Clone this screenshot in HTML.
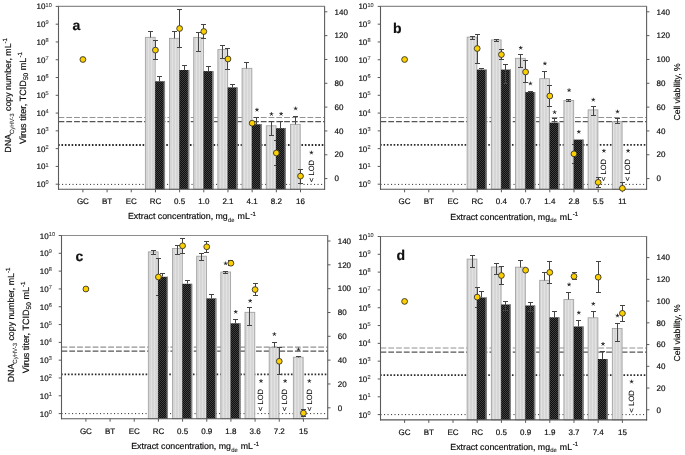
<!DOCTYPE html>
<html><head><meta charset="utf-8"><style>
html,body{margin:0;padding:0;background:#fff;}
svg{display:block;}
text{font-family:"Liberation Sans", sans-serif;text-rendering:geometricPrecision;stroke:#111;stroke-width:0.18px;}
#wrap{will-change:transform;width:685px;height:455px;}
</style></head><body><div id="wrap">
<svg width="685" height="455" viewBox="0 0 685 455"><defs>
<pattern id="lightpat" width="3" height="4" patternUnits="userSpaceOnUse">
<rect width="3" height="4" fill="#d6d6d6"/><rect x="1" width="1" height="4" fill="#e2e2e2"/>
</pattern>
<pattern id="darkpat" width="2" height="2" patternUnits="userSpaceOnUse">
<rect width="2" height="2" fill="#101010"/><rect width="1" height="1" fill="#3e3e3e"/><rect x="1" y="1" width="1" height="1" fill="#3e3e3e"/>
</pattern>
</defs><rect width="685" height="455" fill="#ffffff"/><line x1="58.50" y1="117.50" x2="324.60" y2="117.50" stroke="#929292" stroke-width="1.05" stroke-dasharray="5.8 1.98"/><line x1="58.50" y1="121.60" x2="324.60" y2="121.60" stroke="#555555" stroke-width="1.25" stroke-dasharray="5.8 1.98"/><line x1="58.50" y1="145.00" x2="324.60" y2="145.00" stroke="#2a2a2a" stroke-width="1.8" stroke-dasharray="1.6 1.78" stroke-dashoffset="0.4"/><line x1="58.50" y1="184.40" x2="324.60" y2="184.40" stroke="#333333" stroke-width="1.0" stroke-dasharray="1.1 2.4"/><rect x="145.34" y="37.30" width="9.8" height="152.00" fill="url(#lightpat)" stroke="#9c9c9c" stroke-width="0.8"/><line x1="150.50" y1="31.50" x2="150.50" y2="37.50" stroke="#444444" stroke-width="1.0" /><line x1="148.00" y1="31.50" x2="153.00" y2="31.50" stroke="#444444" stroke-width="1.0" /><rect x="169.52" y="38.30" width="9.8" height="151.00" fill="url(#lightpat)" stroke="#9c9c9c" stroke-width="0.8"/><line x1="174.50" y1="31.50" x2="174.50" y2="38.50" stroke="#444444" stroke-width="1.0" /><line x1="172.00" y1="31.50" x2="177.00" y2="31.50" stroke="#444444" stroke-width="1.0" /><rect x="193.70" y="37.40" width="9.8" height="151.90" fill="url(#lightpat)" stroke="#9c9c9c" stroke-width="0.8"/><line x1="198.50" y1="32.50" x2="198.50" y2="51.50" stroke="#444444" stroke-width="1.0" /><line x1="196.00" y1="32.50" x2="201.00" y2="32.50" stroke="#444444" stroke-width="1.0" /><line x1="196.00" y1="51.50" x2="201.00" y2="51.50" stroke="#444444" stroke-width="1.0" /><rect x="217.88" y="49.60" width="9.8" height="139.70" fill="url(#lightpat)" stroke="#9c9c9c" stroke-width="0.8"/><line x1="222.50" y1="45.50" x2="222.50" y2="58.50" stroke="#444444" stroke-width="1.0" /><line x1="220.00" y1="45.50" x2="225.00" y2="45.50" stroke="#444444" stroke-width="1.0" /><line x1="220.00" y1="58.50" x2="225.00" y2="58.50" stroke="#444444" stroke-width="1.0" /><rect x="242.06" y="68.30" width="9.8" height="121.00" fill="url(#lightpat)" stroke="#9c9c9c" stroke-width="0.8"/><line x1="246.50" y1="62.50" x2="246.50" y2="68.50" stroke="#444444" stroke-width="1.0" /><line x1="244.00" y1="62.50" x2="249.00" y2="62.50" stroke="#444444" stroke-width="1.0" /><rect x="266.24" y="125.80" width="9.8" height="63.50" fill="url(#lightpat)" stroke="#9c9c9c" stroke-width="0.8"/><line x1="271.50" y1="121.50" x2="271.50" y2="135.50" stroke="#444444" stroke-width="1.0" /><line x1="269.00" y1="121.50" x2="274.00" y2="121.50" stroke="#444444" stroke-width="1.0" /><line x1="269.00" y1="135.50" x2="274.00" y2="135.50" stroke="#444444" stroke-width="1.0" /><rect x="290.42" y="124.30" width="9.8" height="65.00" fill="url(#lightpat)" stroke="#9c9c9c" stroke-width="0.8"/><line x1="295.50" y1="116.50" x2="295.50" y2="124.50" stroke="#444444" stroke-width="1.0" /><line x1="293.00" y1="116.50" x2="298.00" y2="116.50" stroke="#444444" stroke-width="1.0" /><line x1="155.50" y1="40.50" x2="155.50" y2="59.50" stroke="#444444" stroke-width="1.0" /><line x1="153.00" y1="40.50" x2="158.00" y2="40.50" stroke="#444444" stroke-width="1.0" /><line x1="153.00" y1="59.50" x2="158.00" y2="59.50" stroke="#444444" stroke-width="1.0" /><line x1="179.50" y1="9.50" x2="179.50" y2="47.50" stroke="#444444" stroke-width="1.0" /><line x1="177.00" y1="9.50" x2="182.00" y2="9.50" stroke="#444444" stroke-width="1.0" /><line x1="177.00" y1="47.50" x2="182.00" y2="47.50" stroke="#444444" stroke-width="1.0" /><line x1="203.50" y1="24.50" x2="203.50" y2="38.50" stroke="#444444" stroke-width="1.0" /><line x1="201.00" y1="24.50" x2="206.00" y2="24.50" stroke="#444444" stroke-width="1.0" /><line x1="201.00" y1="38.50" x2="206.00" y2="38.50" stroke="#444444" stroke-width="1.0" /><line x1="227.50" y1="48.50" x2="227.50" y2="69.50" stroke="#444444" stroke-width="1.0" /><line x1="225.00" y1="48.50" x2="230.00" y2="48.50" stroke="#444444" stroke-width="1.0" /><line x1="225.00" y1="69.50" x2="230.00" y2="69.50" stroke="#444444" stroke-width="1.0" /><line x1="276.50" y1="140.50" x2="276.50" y2="165.50" stroke="#444444" stroke-width="1.0" /><line x1="274.00" y1="140.50" x2="279.00" y2="140.50" stroke="#444444" stroke-width="1.0" /><line x1="274.00" y1="165.50" x2="279.00" y2="165.50" stroke="#444444" stroke-width="1.0" /><line x1="300.50" y1="169.50" x2="300.50" y2="183.50" stroke="#444444" stroke-width="1.0" /><line x1="298.00" y1="169.50" x2="303.00" y2="169.50" stroke="#444444" stroke-width="1.0" /><line x1="298.00" y1="183.50" x2="303.00" y2="183.50" stroke="#444444" stroke-width="1.0" /><rect x="155.14" y="81.30" width="9.9" height="108.00" fill="url(#darkpat)"/><rect x="163.64" y="81.30" width="1.4" height="108.00" fill="#9a9a9a" opacity="0.8"/><line x1="159.50" y1="76.50" x2="159.50" y2="81.50" stroke="#444444" stroke-width="1.0" /><line x1="157.00" y1="76.50" x2="162.00" y2="76.50" stroke="#444444" stroke-width="1.0" /><rect x="179.32" y="70.00" width="9.9" height="119.30" fill="url(#darkpat)"/><rect x="187.82" y="70.00" width="1.4" height="119.30" fill="#9a9a9a" opacity="0.8"/><line x1="184.50" y1="65.50" x2="184.50" y2="70.50" stroke="#444444" stroke-width="1.0" /><line x1="182.00" y1="65.50" x2="187.00" y2="65.50" stroke="#444444" stroke-width="1.0" /><rect x="203.50" y="71.10" width="9.9" height="118.20" fill="url(#darkpat)"/><rect x="212.00" y="71.10" width="1.4" height="118.20" fill="#9a9a9a" opacity="0.8"/><line x1="208.50" y1="66.50" x2="208.50" y2="71.50" stroke="#444444" stroke-width="1.0" /><line x1="206.00" y1="66.50" x2="211.00" y2="66.50" stroke="#444444" stroke-width="1.0" /><rect x="227.68" y="87.40" width="9.9" height="101.90" fill="url(#darkpat)"/><rect x="236.18" y="87.40" width="1.4" height="101.90" fill="#9a9a9a" opacity="0.8"/><line x1="232.50" y1="84.50" x2="232.50" y2="87.50" stroke="#444444" stroke-width="1.0" /><line x1="230.00" y1="84.50" x2="235.00" y2="84.50" stroke="#444444" stroke-width="1.0" /><rect x="251.86" y="124.30" width="9.9" height="65.00" fill="url(#darkpat)"/><rect x="260.36" y="124.30" width="1.4" height="65.00" fill="#9a9a9a" opacity="0.8"/><line x1="256.50" y1="117.50" x2="256.50" y2="124.50" stroke="#444444" stroke-width="1.0" /><line x1="254.00" y1="117.50" x2="259.00" y2="117.50" stroke="#444444" stroke-width="1.0" /><rect x="276.04" y="128.20" width="9.9" height="61.10" fill="url(#darkpat)"/><rect x="284.54" y="128.20" width="1.4" height="61.10" fill="#9a9a9a" opacity="0.8"/><line x1="280.50" y1="121.50" x2="280.50" y2="128.50" stroke="#444444" stroke-width="1.0" /><line x1="278.00" y1="121.50" x2="283.00" y2="121.50" stroke="#444444" stroke-width="1.0" /><path d="M256.96,109.80L256.96,108.25M256.96,109.80L258.43,109.32M256.96,109.80L257.87,111.05M256.96,109.80L256.05,111.05M256.96,109.80L255.49,109.32" stroke="#222" stroke-width="0.85" fill="none" stroke-linecap="round"/><path d="M271.44,114.10L271.44,112.55M271.44,114.10L272.91,113.62M271.44,114.10L272.35,115.35M271.44,114.10L270.53,115.35M271.44,114.10L269.97,113.62" stroke="#222" stroke-width="0.85" fill="none" stroke-linecap="round"/><path d="M281.14,113.90L281.14,112.35M281.14,113.90L282.61,113.42M281.14,113.90L282.05,115.15M281.14,113.90L280.23,115.15M281.14,113.90L279.67,113.42" stroke="#222" stroke-width="0.85" fill="none" stroke-linecap="round"/><path d="M295.62,108.60L295.62,107.05M295.62,108.60L297.09,108.12M295.62,108.60L296.53,109.85M295.62,108.60L294.71,109.85M295.62,108.60L294.15,108.12" stroke="#222" stroke-width="0.85" fill="none" stroke-linecap="round"/><path d="M311.42,152.70L311.42,151.15M311.42,152.70L312.89,152.22M311.42,152.70L312.33,153.95M311.42,152.70L310.51,153.95M311.42,152.70L309.95,152.22" stroke="#222" stroke-width="0.85" fill="none" stroke-linecap="round"/><text x="0" y="0" font-size="7.6" text-anchor="middle" fill="#111" style="stroke-width:0.08px" transform="translate(313.72,171.00) rotate(-90)">&lt; LOD</text><line x1="58.00" y1="6.40" x2="325.10" y2="6.40" stroke="#8c8c8c" stroke-width="1.1" /><line x1="58.50" y1="6.40" x2="58.50" y2="189.80" stroke="#5a5a5a" stroke-width="1.1" /><line x1="324.60" y1="6.40" x2="324.60" y2="189.80" stroke="#5e5e5e" stroke-width="1.1" /><line x1="58.00" y1="189.30" x2="325.10" y2="189.30" stroke="#555555" stroke-width="1.1" /><line x1="55.70" y1="184.20" x2="58.50" y2="184.20" stroke="#5a5a5a" stroke-width="1" /><text x="36.60" y="187.20" font-size="8" text-anchor="start" font-weight="normal" fill="#0a0a0a" >10</text><text x="45.60" y="184.30" font-size="5.6" text-anchor="start" font-weight="normal" fill="#555" style="stroke-width:0.1px">0</text><line x1="55.70" y1="166.42" x2="58.50" y2="166.42" stroke="#5a5a5a" stroke-width="1" /><text x="36.60" y="169.42" font-size="8" text-anchor="start" font-weight="normal" fill="#0a0a0a" >10</text><text x="45.60" y="166.52" font-size="5.6" text-anchor="start" font-weight="normal" fill="#555" style="stroke-width:0.1px">1</text><line x1="55.70" y1="148.64" x2="58.50" y2="148.64" stroke="#5a5a5a" stroke-width="1" /><text x="36.60" y="151.64" font-size="8" text-anchor="start" font-weight="normal" fill="#0a0a0a" >10</text><text x="45.60" y="148.74" font-size="5.6" text-anchor="start" font-weight="normal" fill="#555" style="stroke-width:0.1px">2</text><line x1="55.70" y1="130.86" x2="58.50" y2="130.86" stroke="#5a5a5a" stroke-width="1" /><text x="36.60" y="133.86" font-size="8" text-anchor="start" font-weight="normal" fill="#0a0a0a" >10</text><text x="45.60" y="130.96" font-size="5.6" text-anchor="start" font-weight="normal" fill="#555" style="stroke-width:0.1px">3</text><line x1="55.70" y1="113.08" x2="58.50" y2="113.08" stroke="#5a5a5a" stroke-width="1" /><text x="36.60" y="116.08" font-size="8" text-anchor="start" font-weight="normal" fill="#0a0a0a" >10</text><text x="45.60" y="113.18" font-size="5.6" text-anchor="start" font-weight="normal" fill="#555" style="stroke-width:0.1px">4</text><line x1="55.70" y1="95.30" x2="58.50" y2="95.30" stroke="#5a5a5a" stroke-width="1" /><text x="36.60" y="98.30" font-size="8" text-anchor="start" font-weight="normal" fill="#0a0a0a" >10</text><text x="45.60" y="95.40" font-size="5.6" text-anchor="start" font-weight="normal" fill="#555" style="stroke-width:0.1px">5</text><line x1="55.70" y1="77.52" x2="58.50" y2="77.52" stroke="#5a5a5a" stroke-width="1" /><text x="36.60" y="80.52" font-size="8" text-anchor="start" font-weight="normal" fill="#0a0a0a" >10</text><text x="45.60" y="77.62" font-size="5.6" text-anchor="start" font-weight="normal" fill="#555" style="stroke-width:0.1px">6</text><line x1="55.70" y1="59.74" x2="58.50" y2="59.74" stroke="#5a5a5a" stroke-width="1" /><text x="36.60" y="62.74" font-size="8" text-anchor="start" font-weight="normal" fill="#0a0a0a" >10</text><text x="45.60" y="59.84" font-size="5.6" text-anchor="start" font-weight="normal" fill="#555" style="stroke-width:0.1px">7</text><line x1="55.70" y1="41.96" x2="58.50" y2="41.96" stroke="#5a5a5a" stroke-width="1" /><text x="36.60" y="44.96" font-size="8" text-anchor="start" font-weight="normal" fill="#0a0a0a" >10</text><text x="45.60" y="42.06" font-size="5.6" text-anchor="start" font-weight="normal" fill="#555" style="stroke-width:0.1px">8</text><line x1="55.70" y1="24.18" x2="58.50" y2="24.18" stroke="#5a5a5a" stroke-width="1" /><text x="36.60" y="27.18" font-size="8" text-anchor="start" font-weight="normal" fill="#0a0a0a" >10</text><text x="45.60" y="24.28" font-size="5.6" text-anchor="start" font-weight="normal" fill="#555" style="stroke-width:0.1px">9</text><line x1="55.70" y1="6.40" x2="58.50" y2="6.40" stroke="#5a5a5a" stroke-width="1" /><text x="36.60" y="9.40" font-size="8" text-anchor="start" font-weight="normal" fill="#0a0a0a" >10</text><text x="45.60" y="6.50" font-size="5.6" text-anchor="start" font-weight="normal" fill="#555" style="stroke-width:0.1px">10</text><line x1="324.60" y1="178.60" x2="327.40" y2="178.60" stroke="#5a5a5a" stroke-width="1" /><text x="334.60" y="181.30" font-size="8" text-anchor="start" font-weight="normal" fill="#0a0a0a" >0</text><line x1="324.60" y1="154.77" x2="327.40" y2="154.77" stroke="#5a5a5a" stroke-width="1" /><text x="334.60" y="157.47" font-size="8" text-anchor="start" font-weight="normal" fill="#0a0a0a" >20</text><line x1="324.60" y1="130.94" x2="327.40" y2="130.94" stroke="#5a5a5a" stroke-width="1" /><text x="334.60" y="133.64" font-size="8" text-anchor="start" font-weight="normal" fill="#0a0a0a" >40</text><line x1="324.60" y1="107.11" x2="327.40" y2="107.11" stroke="#5a5a5a" stroke-width="1" /><text x="334.60" y="109.81" font-size="8" text-anchor="start" font-weight="normal" fill="#0a0a0a" >60</text><line x1="324.60" y1="83.29" x2="327.40" y2="83.29" stroke="#5a5a5a" stroke-width="1" /><text x="334.60" y="85.99" font-size="8" text-anchor="start" font-weight="normal" fill="#0a0a0a" >80</text><line x1="324.60" y1="59.46" x2="327.40" y2="59.46" stroke="#5a5a5a" stroke-width="1" /><text x="334.60" y="62.16" font-size="8" text-anchor="start" font-weight="normal" fill="#0a0a0a" >100</text><line x1="324.60" y1="35.63" x2="327.40" y2="35.63" stroke="#5a5a5a" stroke-width="1" /><text x="334.60" y="38.33" font-size="8" text-anchor="start" font-weight="normal" fill="#0a0a0a" >120</text><line x1="324.60" y1="11.80" x2="327.40" y2="11.80" stroke="#5a5a5a" stroke-width="1" /><text x="334.60" y="14.50" font-size="8" text-anchor="start" font-weight="normal" fill="#0a0a0a" >140</text><line x1="82.90" y1="189.30" x2="82.90" y2="192.30" stroke="#5a5a5a" stroke-width="1" /><text x="82.90" y="204.20" font-size="8" text-anchor="middle" font-weight="normal" fill="#0a0a0a" >GC</text><line x1="107.08" y1="189.30" x2="107.08" y2="192.30" stroke="#5a5a5a" stroke-width="1" /><text x="107.08" y="204.20" font-size="8" text-anchor="middle" font-weight="normal" fill="#0a0a0a" >BT</text><line x1="131.26" y1="189.30" x2="131.26" y2="192.30" stroke="#5a5a5a" stroke-width="1" /><text x="131.26" y="204.20" font-size="8" text-anchor="middle" font-weight="normal" fill="#0a0a0a" >EC</text><line x1="155.44" y1="189.30" x2="155.44" y2="192.30" stroke="#5a5a5a" stroke-width="1" /><text x="155.44" y="204.20" font-size="8" text-anchor="middle" font-weight="normal" fill="#0a0a0a" >RC</text><line x1="179.62" y1="189.30" x2="179.62" y2="192.30" stroke="#5a5a5a" stroke-width="1" /><text x="179.62" y="204.20" font-size="8" text-anchor="middle" font-weight="normal" fill="#0a0a0a" >0.5</text><line x1="203.80" y1="189.30" x2="203.80" y2="192.30" stroke="#5a5a5a" stroke-width="1" /><text x="203.80" y="204.20" font-size="8" text-anchor="middle" font-weight="normal" fill="#0a0a0a" >1.0</text><line x1="227.98" y1="189.30" x2="227.98" y2="192.30" stroke="#5a5a5a" stroke-width="1" /><text x="227.98" y="204.20" font-size="8" text-anchor="middle" font-weight="normal" fill="#0a0a0a" >2.1</text><line x1="252.16" y1="189.30" x2="252.16" y2="192.30" stroke="#5a5a5a" stroke-width="1" /><text x="252.16" y="204.20" font-size="8" text-anchor="middle" font-weight="normal" fill="#0a0a0a" >4.1</text><line x1="276.34" y1="189.30" x2="276.34" y2="192.30" stroke="#5a5a5a" stroke-width="1" /><text x="276.34" y="204.20" font-size="8" text-anchor="middle" font-weight="normal" fill="#0a0a0a" >8.2</text><line x1="300.52" y1="189.30" x2="300.52" y2="192.30" stroke="#5a5a5a" stroke-width="1" /><text x="300.52" y="204.20" font-size="8" text-anchor="middle" font-weight="normal" fill="#0a0a0a" >16</text><text x="72.50" y="30.30" font-size="14" text-anchor="start" font-weight="bold" fill="#111" >a</text><text x="128.00" y="219.30" font-size="8.8" fill="#0a0a0a">Extract concentration, mg<tspan font-size="5.9" dy="2.9" dx="0.3" fill="#333" style="stroke-width:0.1px">de</tspan><tspan dy="-2.9" dx="0.5"> mL</tspan><tspan font-size="5.9" dy="-3.7" dx="0.7">-1</tspan></text><circle cx="82.90" cy="59.50" r="2.9" fill="#fccf00" stroke="#2a2a2a" stroke-width="0.85"/><circle cx="155.44" cy="50.10" r="2.9" fill="#fccf00" stroke="#2a2a2a" stroke-width="0.85"/><circle cx="179.62" cy="28.50" r="2.9" fill="#fccf00" stroke="#2a2a2a" stroke-width="0.85"/><circle cx="203.80" cy="31.50" r="2.9" fill="#fccf00" stroke="#2a2a2a" stroke-width="0.85"/><circle cx="227.98" cy="59.00" r="2.9" fill="#fccf00" stroke="#2a2a2a" stroke-width="0.85"/><circle cx="252.16" cy="123.20" r="2.9" fill="#fccf00" stroke="#2a2a2a" stroke-width="0.85"/><circle cx="276.34" cy="153.00" r="2.9" fill="#fccf00" stroke="#2a2a2a" stroke-width="0.85"/><circle cx="300.52" cy="176.10" r="2.9" fill="#fccf00" stroke="#2a2a2a" stroke-width="0.85"/><line x1="380.50" y1="117.50" x2="646.60" y2="117.50" stroke="#929292" stroke-width="1.05" stroke-dasharray="5.8 1.98"/><line x1="380.50" y1="121.60" x2="646.60" y2="121.60" stroke="#555555" stroke-width="1.25" stroke-dasharray="5.8 1.98"/><line x1="380.50" y1="144.80" x2="646.60" y2="144.80" stroke="#2a2a2a" stroke-width="1.8" stroke-dasharray="1.6 1.78" stroke-dashoffset="0.4"/><line x1="380.50" y1="184.40" x2="646.60" y2="184.40" stroke="#333333" stroke-width="1.0" stroke-dasharray="1.1 2.4"/><rect x="467.10" y="37.10" width="9.8" height="152.20" fill="url(#lightpat)" stroke="#9c9c9c" stroke-width="0.8"/><line x1="472.50" y1="36.50" x2="472.50" y2="39.50" stroke="#444444" stroke-width="1.0" /><line x1="470.00" y1="36.50" x2="475.00" y2="36.50" stroke="#444444" stroke-width="1.0" /><line x1="470.00" y1="39.50" x2="475.00" y2="39.50" stroke="#444444" stroke-width="1.0" /><rect x="491.30" y="39.90" width="9.8" height="149.40" fill="url(#lightpat)" stroke="#9c9c9c" stroke-width="0.8"/><line x1="496.50" y1="39.50" x2="496.50" y2="41.50" stroke="#444444" stroke-width="1.0" /><line x1="494.00" y1="39.50" x2="499.00" y2="39.50" stroke="#444444" stroke-width="1.0" /><line x1="494.00" y1="41.50" x2="499.00" y2="41.50" stroke="#444444" stroke-width="1.0" /><rect x="515.50" y="58.30" width="9.8" height="131.00" fill="url(#lightpat)" stroke="#9c9c9c" stroke-width="0.8"/><line x1="520.50" y1="54.50" x2="520.50" y2="67.50" stroke="#444444" stroke-width="1.0" /><line x1="518.00" y1="54.50" x2="523.00" y2="54.50" stroke="#444444" stroke-width="1.0" /><line x1="518.00" y1="67.50" x2="523.00" y2="67.50" stroke="#444444" stroke-width="1.0" /><rect x="539.70" y="78.70" width="9.8" height="110.60" fill="url(#lightpat)" stroke="#9c9c9c" stroke-width="0.8"/><line x1="544.50" y1="71.50" x2="544.50" y2="78.50" stroke="#444444" stroke-width="1.0" /><line x1="542.00" y1="71.50" x2="547.00" y2="71.50" stroke="#444444" stroke-width="1.0" /><rect x="563.90" y="100.40" width="9.8" height="88.90" fill="url(#lightpat)" stroke="#9c9c9c" stroke-width="0.8"/><line x1="568.50" y1="99.50" x2="568.50" y2="101.50" stroke="#444444" stroke-width="1.0" /><line x1="566.00" y1="99.50" x2="571.00" y2="99.50" stroke="#444444" stroke-width="1.0" /><line x1="566.00" y1="101.50" x2="571.00" y2="101.50" stroke="#444444" stroke-width="1.0" /><rect x="588.10" y="109.90" width="9.8" height="79.40" fill="url(#lightpat)" stroke="#9c9c9c" stroke-width="0.8"/><line x1="593.50" y1="106.50" x2="593.50" y2="115.50" stroke="#444444" stroke-width="1.0" /><line x1="591.00" y1="106.50" x2="596.00" y2="106.50" stroke="#444444" stroke-width="1.0" /><line x1="591.00" y1="115.50" x2="596.00" y2="115.50" stroke="#444444" stroke-width="1.0" /><rect x="612.30" y="121.80" width="9.8" height="67.50" fill="url(#lightpat)" stroke="#9c9c9c" stroke-width="0.8"/><line x1="617.50" y1="118.50" x2="617.50" y2="123.50" stroke="#444444" stroke-width="1.0" /><line x1="615.00" y1="118.50" x2="620.00" y2="118.50" stroke="#444444" stroke-width="1.0" /><line x1="615.00" y1="123.50" x2="620.00" y2="123.50" stroke="#444444" stroke-width="1.0" /><line x1="477.50" y1="34.50" x2="477.50" y2="63.50" stroke="#444444" stroke-width="1.0" /><line x1="475.00" y1="34.50" x2="480.00" y2="34.50" stroke="#444444" stroke-width="1.0" /><line x1="475.00" y1="63.50" x2="480.00" y2="63.50" stroke="#444444" stroke-width="1.0" /><line x1="501.50" y1="49.50" x2="501.50" y2="59.50" stroke="#444444" stroke-width="1.0" /><line x1="499.00" y1="49.50" x2="504.00" y2="49.50" stroke="#444444" stroke-width="1.0" /><line x1="499.00" y1="59.50" x2="504.00" y2="59.50" stroke="#444444" stroke-width="1.0" /><line x1="525.50" y1="60.50" x2="525.50" y2="82.50" stroke="#444444" stroke-width="1.0" /><line x1="523.00" y1="60.50" x2="528.00" y2="60.50" stroke="#444444" stroke-width="1.0" /><line x1="523.00" y1="82.50" x2="528.00" y2="82.50" stroke="#444444" stroke-width="1.0" /><line x1="549.50" y1="85.50" x2="549.50" y2="106.50" stroke="#444444" stroke-width="1.0" /><line x1="547.00" y1="85.50" x2="552.00" y2="85.50" stroke="#444444" stroke-width="1.0" /><line x1="547.00" y1="106.50" x2="552.00" y2="106.50" stroke="#444444" stroke-width="1.0" /><line x1="574.50" y1="144.50" x2="574.50" y2="163.50" stroke="#444444" stroke-width="1.0" /><line x1="572.00" y1="144.50" x2="577.00" y2="144.50" stroke="#444444" stroke-width="1.0" /><line x1="572.00" y1="163.50" x2="577.00" y2="163.50" stroke="#444444" stroke-width="1.0" /><line x1="598.50" y1="177.50" x2="598.50" y2="187.50" stroke="#444444" stroke-width="1.0" /><line x1="596.00" y1="177.50" x2="601.00" y2="177.50" stroke="#444444" stroke-width="1.0" /><line x1="596.00" y1="187.50" x2="601.00" y2="187.50" stroke="#444444" stroke-width="1.0" /><line x1="622.50" y1="182.50" x2="622.50" y2="188.50" stroke="#444444" stroke-width="1.0" /><line x1="620.00" y1="182.50" x2="625.00" y2="182.50" stroke="#444444" stroke-width="1.0" /><rect x="476.90" y="69.60" width="9.9" height="119.70" fill="url(#darkpat)"/><rect x="485.40" y="69.60" width="1.4" height="119.70" fill="#9a9a9a" opacity="0.8"/><line x1="481.50" y1="68.50" x2="481.50" y2="69.50" stroke="#444444" stroke-width="1.0" /><line x1="479.00" y1="68.50" x2="484.00" y2="68.50" stroke="#444444" stroke-width="1.0" /><rect x="501.10" y="69.60" width="9.9" height="119.70" fill="url(#darkpat)"/><rect x="509.60" y="69.60" width="1.4" height="119.70" fill="#9a9a9a" opacity="0.8"/><line x1="505.50" y1="64.50" x2="505.50" y2="83.50" stroke="#444444" stroke-width="1.0" /><line x1="503.00" y1="64.50" x2="508.00" y2="64.50" stroke="#444444" stroke-width="1.0" /><line x1="503.00" y1="83.50" x2="508.00" y2="83.50" stroke="#444444" stroke-width="1.0" /><rect x="525.30" y="92.10" width="9.9" height="97.20" fill="url(#darkpat)"/><rect x="533.80" y="92.10" width="1.4" height="97.20" fill="#9a9a9a" opacity="0.8"/><line x1="530.50" y1="91.50" x2="530.50" y2="92.50" stroke="#444444" stroke-width="1.0" /><line x1="528.00" y1="91.50" x2="533.00" y2="91.50" stroke="#444444" stroke-width="1.0" /><rect x="549.50" y="122.70" width="9.9" height="66.60" fill="url(#darkpat)"/><rect x="558.00" y="122.70" width="1.4" height="66.60" fill="#9a9a9a" opacity="0.8"/><line x1="554.50" y1="118.50" x2="554.50" y2="122.50" stroke="#444444" stroke-width="1.0" /><line x1="552.00" y1="118.50" x2="557.00" y2="118.50" stroke="#444444" stroke-width="1.0" /><rect x="573.70" y="139.60" width="9.9" height="49.70" fill="url(#darkpat)"/><rect x="582.20" y="139.60" width="1.4" height="49.70" fill="#9a9a9a" opacity="0.8"/><path d="M520.70,47.90L520.70,46.35M520.70,47.90L522.17,47.42M520.70,47.90L521.61,49.15M520.70,47.90L519.79,49.15M520.70,47.90L519.23,47.42" stroke="#222" stroke-width="0.85" fill="none" stroke-linecap="round"/><path d="M530.40,83.60L530.40,82.05M530.40,83.60L531.87,83.12M530.40,83.60L531.31,84.85M530.40,83.60L529.49,84.85M530.40,83.60L528.93,83.12" stroke="#222" stroke-width="0.85" fill="none" stroke-linecap="round"/><path d="M544.90,63.60L544.90,62.05M544.90,63.60L546.37,63.12M544.90,63.60L545.81,64.85M544.90,63.60L543.99,64.85M544.90,63.60L543.43,63.12" stroke="#222" stroke-width="0.85" fill="none" stroke-linecap="round"/><path d="M554.60,112.30L554.60,110.75M554.60,112.30L556.07,111.82M554.60,112.30L555.51,113.55M554.60,112.30L553.69,113.55M554.60,112.30L553.13,111.82" stroke="#222" stroke-width="0.85" fill="none" stroke-linecap="round"/><path d="M569.10,90.30L569.10,88.75M569.10,90.30L570.57,89.82M569.10,90.30L570.01,91.55M569.10,90.30L568.19,91.55M569.10,90.30L567.63,89.82" stroke="#222" stroke-width="0.85" fill="none" stroke-linecap="round"/><path d="M578.80,131.90L578.80,130.35M578.80,131.90L580.27,131.42M578.80,131.90L579.71,133.15M578.80,131.90L577.89,133.15M578.80,131.90L577.33,131.42" stroke="#222" stroke-width="0.85" fill="none" stroke-linecap="round"/><path d="M593.30,99.80L593.30,98.25M593.30,99.80L594.77,99.32M593.30,99.80L594.21,101.05M593.30,99.80L592.39,101.05M593.30,99.80L591.83,99.32" stroke="#222" stroke-width="0.85" fill="none" stroke-linecap="round"/><path d="M603.90,150.90L603.90,149.35M603.90,150.90L605.37,150.42M603.90,150.90L604.81,152.15M603.90,150.90L602.99,152.15M603.90,150.90L602.43,150.42" stroke="#222" stroke-width="0.85" fill="none" stroke-linecap="round"/><text x="0" y="0" font-size="7.6" text-anchor="middle" fill="#111" style="stroke-width:0.08px" transform="translate(606.20,170.00) rotate(-90)">&lt; LOD</text><path d="M617.50,111.70L617.50,110.15M617.50,111.70L618.97,111.22M617.50,111.70L618.41,112.95M617.50,111.70L616.59,112.95M617.50,111.70L616.03,111.22" stroke="#222" stroke-width="0.85" fill="none" stroke-linecap="round"/><path d="M628.10,150.90L628.10,149.35M628.10,150.90L629.57,150.42M628.10,150.90L629.01,152.15M628.10,150.90L627.19,152.15M628.10,150.90L626.63,150.42" stroke="#222" stroke-width="0.85" fill="none" stroke-linecap="round"/><text x="0" y="0" font-size="7.6" text-anchor="middle" fill="#111" style="stroke-width:0.08px" transform="translate(630.40,170.00) rotate(-90)">&lt; LOD</text><line x1="380.00" y1="6.40" x2="647.10" y2="6.40" stroke="#8c8c8c" stroke-width="1.1" /><line x1="380.50" y1="6.40" x2="380.50" y2="189.80" stroke="#5a5a5a" stroke-width="1.1" /><line x1="646.60" y1="6.40" x2="646.60" y2="189.80" stroke="#5e5e5e" stroke-width="1.1" /><line x1="380.00" y1="189.30" x2="647.10" y2="189.30" stroke="#555555" stroke-width="1.1" /><line x1="377.70" y1="184.20" x2="380.50" y2="184.20" stroke="#5a5a5a" stroke-width="1" /><text x="358.40" y="187.20" font-size="8" text-anchor="start" font-weight="normal" fill="#0a0a0a" >10</text><text x="367.40" y="184.30" font-size="5.6" text-anchor="start" font-weight="normal" fill="#555" style="stroke-width:0.1px">0</text><line x1="377.70" y1="166.42" x2="380.50" y2="166.42" stroke="#5a5a5a" stroke-width="1" /><text x="358.40" y="169.42" font-size="8" text-anchor="start" font-weight="normal" fill="#0a0a0a" >10</text><text x="367.40" y="166.52" font-size="5.6" text-anchor="start" font-weight="normal" fill="#555" style="stroke-width:0.1px">1</text><line x1="377.70" y1="148.64" x2="380.50" y2="148.64" stroke="#5a5a5a" stroke-width="1" /><text x="358.40" y="151.64" font-size="8" text-anchor="start" font-weight="normal" fill="#0a0a0a" >10</text><text x="367.40" y="148.74" font-size="5.6" text-anchor="start" font-weight="normal" fill="#555" style="stroke-width:0.1px">2</text><line x1="377.70" y1="130.86" x2="380.50" y2="130.86" stroke="#5a5a5a" stroke-width="1" /><text x="358.40" y="133.86" font-size="8" text-anchor="start" font-weight="normal" fill="#0a0a0a" >10</text><text x="367.40" y="130.96" font-size="5.6" text-anchor="start" font-weight="normal" fill="#555" style="stroke-width:0.1px">3</text><line x1="377.70" y1="113.08" x2="380.50" y2="113.08" stroke="#5a5a5a" stroke-width="1" /><text x="358.40" y="116.08" font-size="8" text-anchor="start" font-weight="normal" fill="#0a0a0a" >10</text><text x="367.40" y="113.18" font-size="5.6" text-anchor="start" font-weight="normal" fill="#555" style="stroke-width:0.1px">4</text><line x1="377.70" y1="95.30" x2="380.50" y2="95.30" stroke="#5a5a5a" stroke-width="1" /><text x="358.40" y="98.30" font-size="8" text-anchor="start" font-weight="normal" fill="#0a0a0a" >10</text><text x="367.40" y="95.40" font-size="5.6" text-anchor="start" font-weight="normal" fill="#555" style="stroke-width:0.1px">5</text><line x1="377.70" y1="77.52" x2="380.50" y2="77.52" stroke="#5a5a5a" stroke-width="1" /><text x="358.40" y="80.52" font-size="8" text-anchor="start" font-weight="normal" fill="#0a0a0a" >10</text><text x="367.40" y="77.62" font-size="5.6" text-anchor="start" font-weight="normal" fill="#555" style="stroke-width:0.1px">6</text><line x1="377.70" y1="59.74" x2="380.50" y2="59.74" stroke="#5a5a5a" stroke-width="1" /><text x="358.40" y="62.74" font-size="8" text-anchor="start" font-weight="normal" fill="#0a0a0a" >10</text><text x="367.40" y="59.84" font-size="5.6" text-anchor="start" font-weight="normal" fill="#555" style="stroke-width:0.1px">7</text><line x1="377.70" y1="41.96" x2="380.50" y2="41.96" stroke="#5a5a5a" stroke-width="1" /><text x="358.40" y="44.96" font-size="8" text-anchor="start" font-weight="normal" fill="#0a0a0a" >10</text><text x="367.40" y="42.06" font-size="5.6" text-anchor="start" font-weight="normal" fill="#555" style="stroke-width:0.1px">8</text><line x1="377.70" y1="24.18" x2="380.50" y2="24.18" stroke="#5a5a5a" stroke-width="1" /><text x="358.40" y="27.18" font-size="8" text-anchor="start" font-weight="normal" fill="#0a0a0a" >10</text><text x="367.40" y="24.28" font-size="5.6" text-anchor="start" font-weight="normal" fill="#555" style="stroke-width:0.1px">9</text><line x1="377.70" y1="6.40" x2="380.50" y2="6.40" stroke="#5a5a5a" stroke-width="1" /><text x="358.40" y="9.40" font-size="8" text-anchor="start" font-weight="normal" fill="#0a0a0a" >10</text><text x="367.40" y="6.50" font-size="5.6" text-anchor="start" font-weight="normal" fill="#555" style="stroke-width:0.1px">10</text><line x1="646.60" y1="178.60" x2="649.40" y2="178.60" stroke="#5a5a5a" stroke-width="1" /><text x="656.60" y="181.30" font-size="8" text-anchor="start" font-weight="normal" fill="#0a0a0a" >0</text><line x1="646.60" y1="154.77" x2="649.40" y2="154.77" stroke="#5a5a5a" stroke-width="1" /><text x="656.60" y="157.47" font-size="8" text-anchor="start" font-weight="normal" fill="#0a0a0a" >20</text><line x1="646.60" y1="130.94" x2="649.40" y2="130.94" stroke="#5a5a5a" stroke-width="1" /><text x="656.60" y="133.64" font-size="8" text-anchor="start" font-weight="normal" fill="#0a0a0a" >40</text><line x1="646.60" y1="107.11" x2="649.40" y2="107.11" stroke="#5a5a5a" stroke-width="1" /><text x="656.60" y="109.81" font-size="8" text-anchor="start" font-weight="normal" fill="#0a0a0a" >60</text><line x1="646.60" y1="83.29" x2="649.40" y2="83.29" stroke="#5a5a5a" stroke-width="1" /><text x="656.60" y="85.99" font-size="8" text-anchor="start" font-weight="normal" fill="#0a0a0a" >80</text><line x1="646.60" y1="59.46" x2="649.40" y2="59.46" stroke="#5a5a5a" stroke-width="1" /><text x="656.60" y="62.16" font-size="8" text-anchor="start" font-weight="normal" fill="#0a0a0a" >100</text><line x1="646.60" y1="35.63" x2="649.40" y2="35.63" stroke="#5a5a5a" stroke-width="1" /><text x="656.60" y="38.33" font-size="8" text-anchor="start" font-weight="normal" fill="#0a0a0a" >120</text><line x1="646.60" y1="11.80" x2="649.40" y2="11.80" stroke="#5a5a5a" stroke-width="1" /><text x="656.60" y="14.50" font-size="8" text-anchor="start" font-weight="normal" fill="#0a0a0a" >140</text><line x1="404.60" y1="189.30" x2="404.60" y2="192.30" stroke="#5a5a5a" stroke-width="1" /><text x="404.60" y="204.20" font-size="8" text-anchor="middle" font-weight="normal" fill="#0a0a0a" >GC</text><line x1="428.80" y1="189.30" x2="428.80" y2="192.30" stroke="#5a5a5a" stroke-width="1" /><text x="428.80" y="204.20" font-size="8" text-anchor="middle" font-weight="normal" fill="#0a0a0a" >BT</text><line x1="453.00" y1="189.30" x2="453.00" y2="192.30" stroke="#5a5a5a" stroke-width="1" /><text x="453.00" y="204.20" font-size="8" text-anchor="middle" font-weight="normal" fill="#0a0a0a" >EC</text><line x1="477.20" y1="189.30" x2="477.20" y2="192.30" stroke="#5a5a5a" stroke-width="1" /><text x="477.20" y="204.20" font-size="8" text-anchor="middle" font-weight="normal" fill="#0a0a0a" >RC</text><line x1="501.40" y1="189.30" x2="501.40" y2="192.30" stroke="#5a5a5a" stroke-width="1" /><text x="501.40" y="204.20" font-size="8" text-anchor="middle" font-weight="normal" fill="#0a0a0a" >0.4</text><line x1="525.60" y1="189.30" x2="525.60" y2="192.30" stroke="#5a5a5a" stroke-width="1" /><text x="525.60" y="204.20" font-size="8" text-anchor="middle" font-weight="normal" fill="#0a0a0a" >0.7</text><line x1="549.80" y1="189.30" x2="549.80" y2="192.30" stroke="#5a5a5a" stroke-width="1" /><text x="549.80" y="204.20" font-size="8" text-anchor="middle" font-weight="normal" fill="#0a0a0a" >1.4</text><line x1="574.00" y1="189.30" x2="574.00" y2="192.30" stroke="#5a5a5a" stroke-width="1" /><text x="574.00" y="204.20" font-size="8" text-anchor="middle" font-weight="normal" fill="#0a0a0a" >2.8</text><line x1="598.20" y1="189.30" x2="598.20" y2="192.30" stroke="#5a5a5a" stroke-width="1" /><text x="598.20" y="204.20" font-size="8" text-anchor="middle" font-weight="normal" fill="#0a0a0a" >5.5</text><line x1="622.40" y1="189.30" x2="622.40" y2="192.30" stroke="#5a5a5a" stroke-width="1" /><text x="622.40" y="204.20" font-size="8" text-anchor="middle" font-weight="normal" fill="#0a0a0a" >11</text><text x="393.00" y="32.50" font-size="14" text-anchor="start" font-weight="bold" fill="#111" >b</text><text x="450.30" y="219.50" font-size="8.8" fill="#0a0a0a">Extract concentration, mg<tspan font-size="5.9" dy="2.9" dx="0.3" fill="#333" style="stroke-width:0.1px">de</tspan><tspan dy="-2.9" dx="0.5"> mL</tspan><tspan font-size="5.9" dy="-3.7" dx="0.7">-1</tspan></text><circle cx="404.60" cy="59.50" r="2.9" fill="#fccf00" stroke="#2a2a2a" stroke-width="0.85"/><circle cx="477.20" cy="48.50" r="2.9" fill="#fccf00" stroke="#2a2a2a" stroke-width="0.85"/><circle cx="501.40" cy="54.60" r="2.9" fill="#fccf00" stroke="#2a2a2a" stroke-width="0.85"/><circle cx="525.60" cy="72.00" r="2.9" fill="#fccf00" stroke="#2a2a2a" stroke-width="0.85"/><circle cx="549.80" cy="96.00" r="2.9" fill="#fccf00" stroke="#2a2a2a" stroke-width="0.85"/><circle cx="574.00" cy="153.80" r="2.9" fill="#fccf00" stroke="#2a2a2a" stroke-width="0.85"/><circle cx="598.20" cy="182.30" r="2.9" fill="#fccf00" stroke="#2a2a2a" stroke-width="0.85"/><circle cx="622.40" cy="188.30" r="2.9" fill="#fccf00" stroke="#2a2a2a" stroke-width="0.85"/><line x1="61.50" y1="347.10" x2="327.70" y2="347.10" stroke="#929292" stroke-width="1.05" stroke-dasharray="5.8 1.98"/><line x1="61.50" y1="351.10" x2="327.70" y2="351.10" stroke="#555555" stroke-width="1.25" stroke-dasharray="5.8 1.98"/><line x1="61.50" y1="374.30" x2="327.70" y2="374.30" stroke="#2a2a2a" stroke-width="1.8" stroke-dasharray="1.6 1.78" stroke-dashoffset="0.4"/><line x1="61.50" y1="413.60" x2="327.70" y2="413.60" stroke="#333333" stroke-width="1.0" stroke-dasharray="1.1 2.4"/><rect x="148.31" y="251.90" width="9.8" height="166.80" fill="url(#lightpat)" stroke="#9c9c9c" stroke-width="0.8"/><line x1="153.50" y1="250.50" x2="153.50" y2="254.50" stroke="#444444" stroke-width="1.0" /><line x1="151.00" y1="250.50" x2="156.00" y2="250.50" stroke="#444444" stroke-width="1.0" /><line x1="151.00" y1="254.50" x2="156.00" y2="254.50" stroke="#444444" stroke-width="1.0" /><rect x="172.48" y="248.40" width="9.8" height="170.30" fill="url(#lightpat)" stroke="#9c9c9c" stroke-width="0.8"/><line x1="177.50" y1="245.50" x2="177.50" y2="254.50" stroke="#444444" stroke-width="1.0" /><line x1="175.00" y1="245.50" x2="180.00" y2="245.50" stroke="#444444" stroke-width="1.0" /><line x1="175.00" y1="254.50" x2="180.00" y2="254.50" stroke="#444444" stroke-width="1.0" /><rect x="196.65" y="256.20" width="9.8" height="162.50" fill="url(#lightpat)" stroke="#9c9c9c" stroke-width="0.8"/><line x1="201.50" y1="253.50" x2="201.50" y2="260.50" stroke="#444444" stroke-width="1.0" /><line x1="199.00" y1="253.50" x2="204.00" y2="253.50" stroke="#444444" stroke-width="1.0" /><line x1="199.00" y1="260.50" x2="204.00" y2="260.50" stroke="#444444" stroke-width="1.0" /><rect x="220.82" y="272.00" width="9.8" height="146.70" fill="url(#lightpat)" stroke="#9c9c9c" stroke-width="0.8"/><line x1="225.50" y1="271.50" x2="225.50" y2="273.50" stroke="#444444" stroke-width="1.0" /><line x1="223.00" y1="271.50" x2="228.00" y2="271.50" stroke="#444444" stroke-width="1.0" /><line x1="223.00" y1="273.50" x2="228.00" y2="273.50" stroke="#444444" stroke-width="1.0" /><rect x="244.99" y="312.30" width="9.8" height="106.40" fill="url(#lightpat)" stroke="#9c9c9c" stroke-width="0.8"/><line x1="249.50" y1="307.50" x2="249.50" y2="325.50" stroke="#444444" stroke-width="1.0" /><line x1="247.00" y1="307.50" x2="252.00" y2="307.50" stroke="#444444" stroke-width="1.0" /><line x1="247.00" y1="325.50" x2="252.00" y2="325.50" stroke="#444444" stroke-width="1.0" /><rect x="269.16" y="347.30" width="9.8" height="71.40" fill="url(#lightpat)" stroke="#9c9c9c" stroke-width="0.8"/><line x1="274.50" y1="342.50" x2="274.50" y2="347.50" stroke="#444444" stroke-width="1.0" /><line x1="272.00" y1="342.50" x2="277.00" y2="342.50" stroke="#444444" stroke-width="1.0" /><rect x="293.33" y="357.20" width="9.8" height="61.50" fill="url(#lightpat)" stroke="#9c9c9c" stroke-width="0.8"/><line x1="298.50" y1="356.50" x2="298.50" y2="357.50" stroke="#444444" stroke-width="1.0" /><line x1="296.00" y1="356.50" x2="301.00" y2="356.50" stroke="#444444" stroke-width="1.0" /><line x1="158.50" y1="258.50" x2="158.50" y2="295.50" stroke="#444444" stroke-width="1.0" /><line x1="156.00" y1="258.50" x2="161.00" y2="258.50" stroke="#444444" stroke-width="1.0" /><line x1="156.00" y1="295.50" x2="161.00" y2="295.50" stroke="#444444" stroke-width="1.0" /><line x1="182.50" y1="238.50" x2="182.50" y2="253.50" stroke="#444444" stroke-width="1.0" /><line x1="180.00" y1="238.50" x2="185.00" y2="238.50" stroke="#444444" stroke-width="1.0" /><line x1="180.00" y1="253.50" x2="185.00" y2="253.50" stroke="#444444" stroke-width="1.0" /><line x1="206.50" y1="241.50" x2="206.50" y2="252.50" stroke="#444444" stroke-width="1.0" /><line x1="204.00" y1="241.50" x2="209.00" y2="241.50" stroke="#444444" stroke-width="1.0" /><line x1="204.00" y1="252.50" x2="209.00" y2="252.50" stroke="#444444" stroke-width="1.0" /><line x1="230.50" y1="260.50" x2="230.50" y2="265.50" stroke="#444444" stroke-width="1.0" /><line x1="228.00" y1="260.50" x2="233.00" y2="260.50" stroke="#444444" stroke-width="1.0" /><line x1="228.00" y1="265.50" x2="233.00" y2="265.50" stroke="#444444" stroke-width="1.0" /><line x1="255.50" y1="283.50" x2="255.50" y2="295.50" stroke="#444444" stroke-width="1.0" /><line x1="253.00" y1="283.50" x2="258.00" y2="283.50" stroke="#444444" stroke-width="1.0" /><line x1="253.00" y1="295.50" x2="258.00" y2="295.50" stroke="#444444" stroke-width="1.0" /><line x1="279.50" y1="347.50" x2="279.50" y2="374.50" stroke="#444444" stroke-width="1.0" /><line x1="277.00" y1="347.50" x2="282.00" y2="347.50" stroke="#444444" stroke-width="1.0" /><line x1="277.00" y1="374.50" x2="282.00" y2="374.50" stroke="#444444" stroke-width="1.0" /><line x1="303.50" y1="409.50" x2="303.50" y2="416.50" stroke="#444444" stroke-width="1.0" /><line x1="301.00" y1="409.50" x2="306.00" y2="409.50" stroke="#444444" stroke-width="1.0" /><line x1="301.00" y1="416.50" x2="306.00" y2="416.50" stroke="#444444" stroke-width="1.0" /><rect x="158.11" y="276.80" width="9.9" height="141.90" fill="url(#darkpat)"/><rect x="166.61" y="276.80" width="1.4" height="141.90" fill="#9a9a9a" opacity="0.8"/><line x1="162.50" y1="273.50" x2="162.50" y2="276.50" stroke="#444444" stroke-width="1.0" /><line x1="160.00" y1="273.50" x2="165.00" y2="273.50" stroke="#444444" stroke-width="1.0" /><rect x="182.28" y="283.80" width="9.9" height="134.90" fill="url(#darkpat)"/><rect x="190.78" y="283.80" width="1.4" height="134.90" fill="#9a9a9a" opacity="0.8"/><line x1="187.50" y1="280.50" x2="187.50" y2="283.50" stroke="#444444" stroke-width="1.0" /><line x1="185.00" y1="280.50" x2="190.00" y2="280.50" stroke="#444444" stroke-width="1.0" /><rect x="206.45" y="298.40" width="9.9" height="120.30" fill="url(#darkpat)"/><rect x="214.95" y="298.40" width="1.4" height="120.30" fill="#9a9a9a" opacity="0.8"/><line x1="211.50" y1="294.50" x2="211.50" y2="298.50" stroke="#444444" stroke-width="1.0" /><line x1="209.00" y1="294.50" x2="214.00" y2="294.50" stroke="#444444" stroke-width="1.0" /><rect x="230.62" y="323.30" width="9.9" height="95.40" fill="url(#darkpat)"/><rect x="239.12" y="323.30" width="1.4" height="95.40" fill="#9a9a9a" opacity="0.8"/><line x1="235.50" y1="319.50" x2="235.50" y2="323.50" stroke="#444444" stroke-width="1.0" /><line x1="233.00" y1="319.50" x2="238.00" y2="319.50" stroke="#444444" stroke-width="1.0" /><path d="M235.72,311.90L235.72,310.35M235.72,311.90L237.19,311.42M235.72,311.90L236.63,313.15M235.72,311.90L234.81,313.15M235.72,311.90L234.25,311.42" stroke="#222" stroke-width="0.85" fill="none" stroke-linecap="round"/><path d="M225.60,263.50L225.60,261.95M225.60,263.50L227.07,263.02M225.60,263.50L226.51,264.75M225.60,263.50L224.69,264.75M225.60,263.50L224.13,263.02" stroke="#222" stroke-width="0.85" fill="none" stroke-linecap="round"/><path d="M250.19,300.90L250.19,299.35M250.19,300.90L251.66,300.42M250.19,300.90L251.10,302.15M250.19,300.90L249.28,302.15M250.19,300.90L248.72,300.42" stroke="#222" stroke-width="0.85" fill="none" stroke-linecap="round"/><path d="M260.99,381.10L260.99,379.55M260.99,381.10L262.46,380.62M260.99,381.10L261.90,382.35M260.99,381.10L260.08,382.35M260.99,381.10L259.52,380.62" stroke="#222" stroke-width="0.85" fill="none" stroke-linecap="round"/><text x="0" y="0" font-size="7.6" text-anchor="middle" fill="#111" style="stroke-width:0.08px" transform="translate(263.29,400.00) rotate(-90)">&lt; LOD</text><path d="M274.36,334.20L274.36,332.65M274.36,334.20L275.83,333.72M274.36,334.20L275.27,335.45M274.36,334.20L273.45,335.45M274.36,334.20L272.89,333.72" stroke="#222" stroke-width="0.85" fill="none" stroke-linecap="round"/><path d="M285.16,381.10L285.16,379.55M285.16,381.10L286.63,380.62M285.16,381.10L286.07,382.35M285.16,381.10L284.25,382.35M285.16,381.10L283.69,380.62" stroke="#222" stroke-width="0.85" fill="none" stroke-linecap="round"/><text x="0" y="0" font-size="7.6" text-anchor="middle" fill="#111" style="stroke-width:0.08px" transform="translate(287.46,400.00) rotate(-90)">&lt; LOD</text><path d="M298.53,349.50L298.53,347.95M298.53,349.50L300.00,349.02M298.53,349.50L299.44,350.75M298.53,349.50L297.62,350.75M298.53,349.50L297.06,349.02" stroke="#222" stroke-width="0.85" fill="none" stroke-linecap="round"/><path d="M309.33,381.10L309.33,379.55M309.33,381.10L310.80,380.62M309.33,381.10L310.24,382.35M309.33,381.10L308.42,382.35M309.33,381.10L307.86,380.62" stroke="#222" stroke-width="0.85" fill="none" stroke-linecap="round"/><text x="0" y="0" font-size="7.6" text-anchor="middle" fill="#111" style="stroke-width:0.08px" transform="translate(311.63,400.00) rotate(-90)">&lt; LOD</text><line x1="61.00" y1="235.50" x2="328.20" y2="235.50" stroke="#8c8c8c" stroke-width="1.1" /><line x1="61.50" y1="235.50" x2="61.50" y2="419.20" stroke="#5a5a5a" stroke-width="1.1" /><line x1="327.70" y1="235.50" x2="327.70" y2="419.20" stroke="#5e5e5e" stroke-width="1.1" /><line x1="61.00" y1="418.70" x2="328.20" y2="418.70" stroke="#555555" stroke-width="1.1" /><line x1="58.70" y1="413.60" x2="61.50" y2="413.60" stroke="#5a5a5a" stroke-width="1" /><text x="39.80" y="416.60" font-size="8" text-anchor="start" font-weight="normal" fill="#0a0a0a" >10</text><text x="48.80" y="413.70" font-size="5.6" text-anchor="start" font-weight="normal" fill="#555" style="stroke-width:0.1px">0</text><line x1="58.70" y1="395.79" x2="61.50" y2="395.79" stroke="#5a5a5a" stroke-width="1" /><text x="39.80" y="398.79" font-size="8" text-anchor="start" font-weight="normal" fill="#0a0a0a" >10</text><text x="48.80" y="395.89" font-size="5.6" text-anchor="start" font-weight="normal" fill="#555" style="stroke-width:0.1px">1</text><line x1="58.70" y1="377.98" x2="61.50" y2="377.98" stroke="#5a5a5a" stroke-width="1" /><text x="39.80" y="380.98" font-size="8" text-anchor="start" font-weight="normal" fill="#0a0a0a" >10</text><text x="48.80" y="378.08" font-size="5.6" text-anchor="start" font-weight="normal" fill="#555" style="stroke-width:0.1px">2</text><line x1="58.70" y1="360.17" x2="61.50" y2="360.17" stroke="#5a5a5a" stroke-width="1" /><text x="39.80" y="363.17" font-size="8" text-anchor="start" font-weight="normal" fill="#0a0a0a" >10</text><text x="48.80" y="360.27" font-size="5.6" text-anchor="start" font-weight="normal" fill="#555" style="stroke-width:0.1px">3</text><line x1="58.70" y1="342.36" x2="61.50" y2="342.36" stroke="#5a5a5a" stroke-width="1" /><text x="39.80" y="345.36" font-size="8" text-anchor="start" font-weight="normal" fill="#0a0a0a" >10</text><text x="48.80" y="342.46" font-size="5.6" text-anchor="start" font-weight="normal" fill="#555" style="stroke-width:0.1px">4</text><line x1="58.70" y1="324.55" x2="61.50" y2="324.55" stroke="#5a5a5a" stroke-width="1" /><text x="39.80" y="327.55" font-size="8" text-anchor="start" font-weight="normal" fill="#0a0a0a" >10</text><text x="48.80" y="324.65" font-size="5.6" text-anchor="start" font-weight="normal" fill="#555" style="stroke-width:0.1px">5</text><line x1="58.70" y1="306.74" x2="61.50" y2="306.74" stroke="#5a5a5a" stroke-width="1" /><text x="39.80" y="309.74" font-size="8" text-anchor="start" font-weight="normal" fill="#0a0a0a" >10</text><text x="48.80" y="306.84" font-size="5.6" text-anchor="start" font-weight="normal" fill="#555" style="stroke-width:0.1px">6</text><line x1="58.70" y1="288.93" x2="61.50" y2="288.93" stroke="#5a5a5a" stroke-width="1" /><text x="39.80" y="291.93" font-size="8" text-anchor="start" font-weight="normal" fill="#0a0a0a" >10</text><text x="48.80" y="289.03" font-size="5.6" text-anchor="start" font-weight="normal" fill="#555" style="stroke-width:0.1px">7</text><line x1="58.70" y1="271.12" x2="61.50" y2="271.12" stroke="#5a5a5a" stroke-width="1" /><text x="39.80" y="274.12" font-size="8" text-anchor="start" font-weight="normal" fill="#0a0a0a" >10</text><text x="48.80" y="271.22" font-size="5.6" text-anchor="start" font-weight="normal" fill="#555" style="stroke-width:0.1px">8</text><line x1="58.70" y1="253.31" x2="61.50" y2="253.31" stroke="#5a5a5a" stroke-width="1" /><text x="39.80" y="256.31" font-size="8" text-anchor="start" font-weight="normal" fill="#0a0a0a" >10</text><text x="48.80" y="253.41" font-size="5.6" text-anchor="start" font-weight="normal" fill="#555" style="stroke-width:0.1px">9</text><line x1="58.70" y1="235.50" x2="61.50" y2="235.50" stroke="#5a5a5a" stroke-width="1" /><text x="39.80" y="238.50" font-size="8" text-anchor="start" font-weight="normal" fill="#0a0a0a" >10</text><text x="48.80" y="235.60" font-size="5.6" text-anchor="start" font-weight="normal" fill="#555" style="stroke-width:0.1px">10</text><line x1="327.70" y1="407.80" x2="330.50" y2="407.80" stroke="#5a5a5a" stroke-width="1" /><text x="337.70" y="410.50" font-size="8" text-anchor="start" font-weight="normal" fill="#0a0a0a" >0</text><line x1="327.70" y1="383.97" x2="330.50" y2="383.97" stroke="#5a5a5a" stroke-width="1" /><text x="337.70" y="386.67" font-size="8" text-anchor="start" font-weight="normal" fill="#0a0a0a" >20</text><line x1="327.70" y1="360.14" x2="330.50" y2="360.14" stroke="#5a5a5a" stroke-width="1" /><text x="337.70" y="362.84" font-size="8" text-anchor="start" font-weight="normal" fill="#0a0a0a" >40</text><line x1="327.70" y1="336.31" x2="330.50" y2="336.31" stroke="#5a5a5a" stroke-width="1" /><text x="337.70" y="339.01" font-size="8" text-anchor="start" font-weight="normal" fill="#0a0a0a" >60</text><line x1="327.70" y1="312.49" x2="330.50" y2="312.49" stroke="#5a5a5a" stroke-width="1" /><text x="337.70" y="315.19" font-size="8" text-anchor="start" font-weight="normal" fill="#0a0a0a" >80</text><line x1="327.70" y1="288.66" x2="330.50" y2="288.66" stroke="#5a5a5a" stroke-width="1" /><text x="337.70" y="291.36" font-size="8" text-anchor="start" font-weight="normal" fill="#0a0a0a" >100</text><line x1="327.70" y1="264.83" x2="330.50" y2="264.83" stroke="#5a5a5a" stroke-width="1" /><text x="337.70" y="267.53" font-size="8" text-anchor="start" font-weight="normal" fill="#0a0a0a" >120</text><line x1="327.70" y1="241.00" x2="330.50" y2="241.00" stroke="#5a5a5a" stroke-width="1" /><text x="337.70" y="243.70" font-size="8" text-anchor="start" font-weight="normal" fill="#0a0a0a" >140</text><line x1="85.90" y1="418.70" x2="85.90" y2="421.70" stroke="#5a5a5a" stroke-width="1" /><text x="85.90" y="433.60" font-size="8" text-anchor="middle" font-weight="normal" fill="#0a0a0a" >GC</text><line x1="110.07" y1="418.70" x2="110.07" y2="421.70" stroke="#5a5a5a" stroke-width="1" /><text x="110.07" y="433.60" font-size="8" text-anchor="middle" font-weight="normal" fill="#0a0a0a" >BT</text><line x1="134.24" y1="418.70" x2="134.24" y2="421.70" stroke="#5a5a5a" stroke-width="1" /><text x="134.24" y="433.60" font-size="8" text-anchor="middle" font-weight="normal" fill="#0a0a0a" >EC</text><line x1="158.41" y1="418.70" x2="158.41" y2="421.70" stroke="#5a5a5a" stroke-width="1" /><text x="158.41" y="433.60" font-size="8" text-anchor="middle" font-weight="normal" fill="#0a0a0a" >RC</text><line x1="182.58" y1="418.70" x2="182.58" y2="421.70" stroke="#5a5a5a" stroke-width="1" /><text x="182.58" y="433.60" font-size="8" text-anchor="middle" font-weight="normal" fill="#0a0a0a" >0.5</text><line x1="206.75" y1="418.70" x2="206.75" y2="421.70" stroke="#5a5a5a" stroke-width="1" /><text x="206.75" y="433.60" font-size="8" text-anchor="middle" font-weight="normal" fill="#0a0a0a" >0.9</text><line x1="230.92" y1="418.70" x2="230.92" y2="421.70" stroke="#5a5a5a" stroke-width="1" /><text x="230.92" y="433.60" font-size="8" text-anchor="middle" font-weight="normal" fill="#0a0a0a" >1.8</text><line x1="255.09" y1="418.70" x2="255.09" y2="421.70" stroke="#5a5a5a" stroke-width="1" /><text x="255.09" y="433.60" font-size="8" text-anchor="middle" font-weight="normal" fill="#0a0a0a" >3.6</text><line x1="279.26" y1="418.70" x2="279.26" y2="421.70" stroke="#5a5a5a" stroke-width="1" /><text x="279.26" y="433.60" font-size="8" text-anchor="middle" font-weight="normal" fill="#0a0a0a" >7.2</text><line x1="303.43" y1="418.70" x2="303.43" y2="421.70" stroke="#5a5a5a" stroke-width="1" /><text x="303.43" y="433.60" font-size="8" text-anchor="middle" font-weight="normal" fill="#0a0a0a" >15</text><text x="75.50" y="260.50" font-size="14" text-anchor="start" font-weight="bold" fill="#111" >c</text><text x="131.20" y="449.30" font-size="8.8" fill="#0a0a0a">Extract concentration, mg<tspan font-size="5.9" dy="2.9" dx="0.3" fill="#333" style="stroke-width:0.1px">de</tspan><tspan dy="-2.9" dx="0.5"> mL</tspan><tspan font-size="5.9" dy="-3.7" dx="0.7">-1</tspan></text><circle cx="85.90" cy="289.00" r="2.9" fill="#fccf00" stroke="#2a2a2a" stroke-width="0.85"/><circle cx="158.41" cy="277.00" r="2.9" fill="#fccf00" stroke="#2a2a2a" stroke-width="0.85"/><circle cx="182.58" cy="245.80" r="2.9" fill="#fccf00" stroke="#2a2a2a" stroke-width="0.85"/><circle cx="206.75" cy="246.80" r="2.9" fill="#fccf00" stroke="#2a2a2a" stroke-width="0.85"/><circle cx="230.92" cy="263.20" r="2.9" fill="#fccf00" stroke="#2a2a2a" stroke-width="0.85"/><circle cx="255.09" cy="289.60" r="2.9" fill="#fccf00" stroke="#2a2a2a" stroke-width="0.85"/><circle cx="279.26" cy="361.30" r="2.9" fill="#fccf00" stroke="#2a2a2a" stroke-width="0.85"/><circle cx="303.43" cy="413.10" r="2.9" fill="#fccf00" stroke="#2a2a2a" stroke-width="0.85"/><line x1="380.50" y1="347.90" x2="646.60" y2="347.90" stroke="#929292" stroke-width="1.05" stroke-dasharray="5.8 1.98"/><line x1="380.50" y1="352.20" x2="646.60" y2="352.20" stroke="#555555" stroke-width="1.25" stroke-dasharray="5.8 1.98"/><line x1="380.50" y1="375.20" x2="646.60" y2="375.20" stroke="#2a2a2a" stroke-width="1.8" stroke-dasharray="1.6 1.78" stroke-dashoffset="0.4"/><line x1="380.50" y1="414.60" x2="646.60" y2="414.60" stroke="#333333" stroke-width="1.0" stroke-dasharray="1.1 2.4"/><rect x="467.10" y="259.10" width="9.8" height="160.80" fill="url(#lightpat)" stroke="#9c9c9c" stroke-width="0.8"/><line x1="472.50" y1="255.50" x2="472.50" y2="267.50" stroke="#444444" stroke-width="1.0" /><line x1="470.00" y1="255.50" x2="475.00" y2="255.50" stroke="#444444" stroke-width="1.0" /><line x1="470.00" y1="267.50" x2="475.00" y2="267.50" stroke="#444444" stroke-width="1.0" /><rect x="491.30" y="267.00" width="9.8" height="152.90" fill="url(#lightpat)" stroke="#9c9c9c" stroke-width="0.8"/><line x1="496.50" y1="263.50" x2="496.50" y2="274.50" stroke="#444444" stroke-width="1.0" /><line x1="494.00" y1="263.50" x2="499.00" y2="263.50" stroke="#444444" stroke-width="1.0" /><line x1="494.00" y1="274.50" x2="499.00" y2="274.50" stroke="#444444" stroke-width="1.0" /><rect x="515.50" y="267.20" width="9.8" height="152.70" fill="url(#lightpat)" stroke="#9c9c9c" stroke-width="0.8"/><line x1="520.50" y1="260.50" x2="520.50" y2="267.50" stroke="#444444" stroke-width="1.0" /><line x1="518.00" y1="260.50" x2="523.00" y2="260.50" stroke="#444444" stroke-width="1.0" /><rect x="539.70" y="280.30" width="9.8" height="139.60" fill="url(#lightpat)" stroke="#9c9c9c" stroke-width="0.8"/><line x1="544.50" y1="272.50" x2="544.50" y2="280.50" stroke="#444444" stroke-width="1.0" /><line x1="542.00" y1="272.50" x2="547.00" y2="272.50" stroke="#444444" stroke-width="1.0" /><rect x="563.90" y="299.60" width="9.8" height="120.30" fill="url(#lightpat)" stroke="#9c9c9c" stroke-width="0.8"/><line x1="568.50" y1="292.50" x2="568.50" y2="299.50" stroke="#444444" stroke-width="1.0" /><line x1="566.00" y1="292.50" x2="571.00" y2="292.50" stroke="#444444" stroke-width="1.0" /><rect x="588.10" y="317.80" width="9.8" height="102.10" fill="url(#lightpat)" stroke="#9c9c9c" stroke-width="0.8"/><line x1="593.50" y1="311.50" x2="593.50" y2="317.50" stroke="#444444" stroke-width="1.0" /><line x1="591.00" y1="311.50" x2="596.00" y2="311.50" stroke="#444444" stroke-width="1.0" /><rect x="612.30" y="328.40" width="9.8" height="91.50" fill="url(#lightpat)" stroke="#9c9c9c" stroke-width="0.8"/><line x1="617.50" y1="323.50" x2="617.50" y2="341.50" stroke="#444444" stroke-width="1.0" /><line x1="615.00" y1="323.50" x2="620.00" y2="323.50" stroke="#444444" stroke-width="1.0" /><line x1="615.00" y1="341.50" x2="620.00" y2="341.50" stroke="#444444" stroke-width="1.0" /><line x1="477.50" y1="287.50" x2="477.50" y2="307.50" stroke="#444444" stroke-width="1.0" /><line x1="475.00" y1="287.50" x2="480.00" y2="287.50" stroke="#444444" stroke-width="1.0" /><line x1="475.00" y1="307.50" x2="480.00" y2="307.50" stroke="#444444" stroke-width="1.0" /><line x1="501.50" y1="266.50" x2="501.50" y2="284.50" stroke="#444444" stroke-width="1.0" /><line x1="499.00" y1="266.50" x2="504.00" y2="266.50" stroke="#444444" stroke-width="1.0" /><line x1="499.00" y1="284.50" x2="504.00" y2="284.50" stroke="#444444" stroke-width="1.0" /><line x1="549.50" y1="261.50" x2="549.50" y2="283.50" stroke="#444444" stroke-width="1.0" /><line x1="547.00" y1="261.50" x2="552.00" y2="261.50" stroke="#444444" stroke-width="1.0" /><line x1="547.00" y1="283.50" x2="552.00" y2="283.50" stroke="#444444" stroke-width="1.0" /><line x1="574.50" y1="272.50" x2="574.50" y2="279.50" stroke="#444444" stroke-width="1.0" /><line x1="572.00" y1="272.50" x2="577.00" y2="272.50" stroke="#444444" stroke-width="1.0" /><line x1="572.00" y1="279.50" x2="577.00" y2="279.50" stroke="#444444" stroke-width="1.0" /><line x1="598.50" y1="261.50" x2="598.50" y2="292.50" stroke="#444444" stroke-width="1.0" /><line x1="596.00" y1="261.50" x2="601.00" y2="261.50" stroke="#444444" stroke-width="1.0" /><line x1="596.00" y1="292.50" x2="601.00" y2="292.50" stroke="#444444" stroke-width="1.0" /><line x1="622.50" y1="305.50" x2="622.50" y2="321.50" stroke="#444444" stroke-width="1.0" /><line x1="620.00" y1="305.50" x2="625.00" y2="305.50" stroke="#444444" stroke-width="1.0" /><line x1="620.00" y1="321.50" x2="625.00" y2="321.50" stroke="#444444" stroke-width="1.0" /><rect x="476.90" y="297.50" width="9.9" height="122.40" fill="url(#darkpat)"/><rect x="485.40" y="297.50" width="1.4" height="122.40" fill="#9a9a9a" opacity="0.8"/><line x1="481.50" y1="291.50" x2="481.50" y2="297.50" stroke="#444444" stroke-width="1.0" /><line x1="479.00" y1="291.50" x2="484.00" y2="291.50" stroke="#444444" stroke-width="1.0" /><rect x="501.10" y="304.50" width="9.9" height="115.40" fill="url(#darkpat)"/><rect x="509.60" y="304.50" width="1.4" height="115.40" fill="#9a9a9a" opacity="0.8"/><line x1="505.50" y1="301.50" x2="505.50" y2="310.50" stroke="#444444" stroke-width="1.0" /><line x1="503.00" y1="301.50" x2="508.00" y2="301.50" stroke="#444444" stroke-width="1.0" /><line x1="503.00" y1="310.50" x2="508.00" y2="310.50" stroke="#444444" stroke-width="1.0" /><rect x="525.30" y="305.50" width="9.9" height="114.40" fill="url(#darkpat)"/><rect x="533.80" y="305.50" width="1.4" height="114.40" fill="#9a9a9a" opacity="0.8"/><line x1="530.50" y1="302.50" x2="530.50" y2="311.50" stroke="#444444" stroke-width="1.0" /><line x1="528.00" y1="302.50" x2="533.00" y2="302.50" stroke="#444444" stroke-width="1.0" /><line x1="528.00" y1="311.50" x2="533.00" y2="311.50" stroke="#444444" stroke-width="1.0" /><rect x="549.50" y="317.30" width="9.9" height="102.60" fill="url(#darkpat)"/><rect x="558.00" y="317.30" width="1.4" height="102.60" fill="#9a9a9a" opacity="0.8"/><line x1="554.50" y1="311.50" x2="554.50" y2="317.50" stroke="#444444" stroke-width="1.0" /><line x1="552.00" y1="311.50" x2="557.00" y2="311.50" stroke="#444444" stroke-width="1.0" /><rect x="573.70" y="326.50" width="9.9" height="93.40" fill="url(#darkpat)"/><rect x="582.20" y="326.50" width="1.4" height="93.40" fill="#9a9a9a" opacity="0.8"/><line x1="578.50" y1="320.50" x2="578.50" y2="326.50" stroke="#444444" stroke-width="1.0" /><line x1="576.00" y1="320.50" x2="581.00" y2="320.50" stroke="#444444" stroke-width="1.0" /><rect x="597.90" y="359.00" width="9.9" height="60.90" fill="url(#darkpat)"/><rect x="606.40" y="359.00" width="1.4" height="60.90" fill="#9a9a9a" opacity="0.8"/><line x1="602.50" y1="351.50" x2="602.50" y2="359.50" stroke="#444444" stroke-width="1.0" /><line x1="600.00" y1="351.50" x2="605.00" y2="351.50" stroke="#444444" stroke-width="1.0" /><path d="M569.10,284.60L569.10,283.05M569.10,284.60L570.57,284.12M569.10,284.60L570.01,285.85M569.10,284.60L568.19,285.85M569.10,284.60L567.63,284.12" stroke="#222" stroke-width="0.85" fill="none" stroke-linecap="round"/><path d="M578.80,312.80L578.80,311.25M578.80,312.80L580.27,312.32M578.80,312.80L579.71,314.05M578.80,312.80L577.89,314.05M578.80,312.80L577.33,312.32" stroke="#222" stroke-width="0.85" fill="none" stroke-linecap="round"/><path d="M593.30,303.90L593.30,302.35M593.30,303.90L594.77,303.42M593.30,303.90L594.21,305.15M593.30,303.90L592.39,305.15M593.30,303.90L591.83,303.42" stroke="#222" stroke-width="0.85" fill="none" stroke-linecap="round"/><path d="M603.00,344.00L603.00,342.45M603.00,344.00L604.47,343.52M603.00,344.00L603.91,345.25M603.00,344.00L602.09,345.25M603.00,344.00L601.53,343.52" stroke="#222" stroke-width="0.85" fill="none" stroke-linecap="round"/><path d="M617.50,315.70L617.50,314.15M617.50,315.70L618.97,315.22M617.50,315.70L618.41,316.95M617.50,315.70L616.59,316.95M617.50,315.70L616.03,315.22" stroke="#222" stroke-width="0.85" fill="none" stroke-linecap="round"/><path d="M631.60,381.70L631.60,380.15M631.60,381.70L633.07,381.22M631.60,381.70L632.51,382.95M631.60,381.70L630.69,382.95M631.60,381.70L630.13,381.22" stroke="#222" stroke-width="0.85" fill="none" stroke-linecap="round"/><text x="0" y="0" font-size="7.6" text-anchor="middle" fill="#111" style="stroke-width:0.08px" transform="translate(633.90,401.30) rotate(-90)">&lt; LOD</text><line x1="380.00" y1="236.50" x2="647.10" y2="236.50" stroke="#8c8c8c" stroke-width="1.1" /><line x1="380.50" y1="236.50" x2="380.50" y2="420.40" stroke="#5a5a5a" stroke-width="1.1" /><line x1="646.60" y1="236.50" x2="646.60" y2="420.40" stroke="#5e5e5e" stroke-width="1.1" /><line x1="380.00" y1="419.90" x2="647.10" y2="419.90" stroke="#555555" stroke-width="1.1" /><line x1="377.70" y1="414.60" x2="380.50" y2="414.60" stroke="#5a5a5a" stroke-width="1" /><text x="358.40" y="417.60" font-size="8" text-anchor="start" font-weight="normal" fill="#0a0a0a" >10</text><text x="367.40" y="414.70" font-size="5.6" text-anchor="start" font-weight="normal" fill="#555" style="stroke-width:0.1px">0</text><line x1="377.70" y1="396.79" x2="380.50" y2="396.79" stroke="#5a5a5a" stroke-width="1" /><text x="358.40" y="399.79" font-size="8" text-anchor="start" font-weight="normal" fill="#0a0a0a" >10</text><text x="367.40" y="396.89" font-size="5.6" text-anchor="start" font-weight="normal" fill="#555" style="stroke-width:0.1px">1</text><line x1="377.70" y1="378.98" x2="380.50" y2="378.98" stroke="#5a5a5a" stroke-width="1" /><text x="358.40" y="381.98" font-size="8" text-anchor="start" font-weight="normal" fill="#0a0a0a" >10</text><text x="367.40" y="379.08" font-size="5.6" text-anchor="start" font-weight="normal" fill="#555" style="stroke-width:0.1px">2</text><line x1="377.70" y1="361.17" x2="380.50" y2="361.17" stroke="#5a5a5a" stroke-width="1" /><text x="358.40" y="364.17" font-size="8" text-anchor="start" font-weight="normal" fill="#0a0a0a" >10</text><text x="367.40" y="361.27" font-size="5.6" text-anchor="start" font-weight="normal" fill="#555" style="stroke-width:0.1px">3</text><line x1="377.70" y1="343.36" x2="380.50" y2="343.36" stroke="#5a5a5a" stroke-width="1" /><text x="358.40" y="346.36" font-size="8" text-anchor="start" font-weight="normal" fill="#0a0a0a" >10</text><text x="367.40" y="343.46" font-size="5.6" text-anchor="start" font-weight="normal" fill="#555" style="stroke-width:0.1px">4</text><line x1="377.70" y1="325.55" x2="380.50" y2="325.55" stroke="#5a5a5a" stroke-width="1" /><text x="358.40" y="328.55" font-size="8" text-anchor="start" font-weight="normal" fill="#0a0a0a" >10</text><text x="367.40" y="325.65" font-size="5.6" text-anchor="start" font-weight="normal" fill="#555" style="stroke-width:0.1px">5</text><line x1="377.70" y1="307.74" x2="380.50" y2="307.74" stroke="#5a5a5a" stroke-width="1" /><text x="358.40" y="310.74" font-size="8" text-anchor="start" font-weight="normal" fill="#0a0a0a" >10</text><text x="367.40" y="307.84" font-size="5.6" text-anchor="start" font-weight="normal" fill="#555" style="stroke-width:0.1px">6</text><line x1="377.70" y1="289.93" x2="380.50" y2="289.93" stroke="#5a5a5a" stroke-width="1" /><text x="358.40" y="292.93" font-size="8" text-anchor="start" font-weight="normal" fill="#0a0a0a" >10</text><text x="367.40" y="290.03" font-size="5.6" text-anchor="start" font-weight="normal" fill="#555" style="stroke-width:0.1px">7</text><line x1="377.70" y1="272.12" x2="380.50" y2="272.12" stroke="#5a5a5a" stroke-width="1" /><text x="358.40" y="275.12" font-size="8" text-anchor="start" font-weight="normal" fill="#0a0a0a" >10</text><text x="367.40" y="272.22" font-size="5.6" text-anchor="start" font-weight="normal" fill="#555" style="stroke-width:0.1px">8</text><line x1="377.70" y1="254.31" x2="380.50" y2="254.31" stroke="#5a5a5a" stroke-width="1" /><text x="358.40" y="257.31" font-size="8" text-anchor="start" font-weight="normal" fill="#0a0a0a" >10</text><text x="367.40" y="254.41" font-size="5.6" text-anchor="start" font-weight="normal" fill="#555" style="stroke-width:0.1px">9</text><line x1="377.70" y1="236.50" x2="380.50" y2="236.50" stroke="#5a5a5a" stroke-width="1" /><text x="358.40" y="239.50" font-size="8" text-anchor="start" font-weight="normal" fill="#0a0a0a" >10</text><text x="367.40" y="236.60" font-size="5.6" text-anchor="start" font-weight="normal" fill="#555" style="stroke-width:0.1px">10</text><line x1="646.60" y1="409.80" x2="649.40" y2="409.80" stroke="#5a5a5a" stroke-width="1" /><text x="656.60" y="412.50" font-size="8" text-anchor="start" font-weight="normal" fill="#0a0a0a" >0</text><line x1="646.60" y1="388.06" x2="649.40" y2="388.06" stroke="#5a5a5a" stroke-width="1" /><text x="656.60" y="390.76" font-size="8" text-anchor="start" font-weight="normal" fill="#0a0a0a" >20</text><line x1="646.60" y1="366.31" x2="649.40" y2="366.31" stroke="#5a5a5a" stroke-width="1" /><text x="656.60" y="369.01" font-size="8" text-anchor="start" font-weight="normal" fill="#0a0a0a" >40</text><line x1="646.60" y1="344.57" x2="649.40" y2="344.57" stroke="#5a5a5a" stroke-width="1" /><text x="656.60" y="347.27" font-size="8" text-anchor="start" font-weight="normal" fill="#0a0a0a" >60</text><line x1="646.60" y1="322.83" x2="649.40" y2="322.83" stroke="#5a5a5a" stroke-width="1" /><text x="656.60" y="325.53" font-size="8" text-anchor="start" font-weight="normal" fill="#0a0a0a" >80</text><line x1="646.60" y1="301.09" x2="649.40" y2="301.09" stroke="#5a5a5a" stroke-width="1" /><text x="656.60" y="303.79" font-size="8" text-anchor="start" font-weight="normal" fill="#0a0a0a" >100</text><line x1="646.60" y1="279.34" x2="649.40" y2="279.34" stroke="#5a5a5a" stroke-width="1" /><text x="656.60" y="282.04" font-size="8" text-anchor="start" font-weight="normal" fill="#0a0a0a" >120</text><line x1="646.60" y1="257.60" x2="649.40" y2="257.60" stroke="#5a5a5a" stroke-width="1" /><text x="656.60" y="260.30" font-size="8" text-anchor="start" font-weight="normal" fill="#0a0a0a" >140</text><line x1="404.60" y1="419.90" x2="404.60" y2="422.90" stroke="#5a5a5a" stroke-width="1" /><text x="404.60" y="434.60" font-size="8" text-anchor="middle" font-weight="normal" fill="#0a0a0a" >GC</text><line x1="428.80" y1="419.90" x2="428.80" y2="422.90" stroke="#5a5a5a" stroke-width="1" /><text x="428.80" y="434.60" font-size="8" text-anchor="middle" font-weight="normal" fill="#0a0a0a" >BT</text><line x1="453.00" y1="419.90" x2="453.00" y2="422.90" stroke="#5a5a5a" stroke-width="1" /><text x="453.00" y="434.60" font-size="8" text-anchor="middle" font-weight="normal" fill="#0a0a0a" >EC</text><line x1="477.20" y1="419.90" x2="477.20" y2="422.90" stroke="#5a5a5a" stroke-width="1" /><text x="477.20" y="434.60" font-size="8" text-anchor="middle" font-weight="normal" fill="#0a0a0a" >RC</text><line x1="501.40" y1="419.90" x2="501.40" y2="422.90" stroke="#5a5a5a" stroke-width="1" /><text x="501.40" y="434.60" font-size="8" text-anchor="middle" font-weight="normal" fill="#0a0a0a" >0.5</text><line x1="525.60" y1="419.90" x2="525.60" y2="422.90" stroke="#5a5a5a" stroke-width="1" /><text x="525.60" y="434.60" font-size="8" text-anchor="middle" font-weight="normal" fill="#0a0a0a" >0.9</text><line x1="549.80" y1="419.90" x2="549.80" y2="422.90" stroke="#5a5a5a" stroke-width="1" /><text x="549.80" y="434.60" font-size="8" text-anchor="middle" font-weight="normal" fill="#0a0a0a" >1.9</text><line x1="574.00" y1="419.90" x2="574.00" y2="422.90" stroke="#5a5a5a" stroke-width="1" /><text x="574.00" y="434.60" font-size="8" text-anchor="middle" font-weight="normal" fill="#0a0a0a" >3.7</text><line x1="598.20" y1="419.90" x2="598.20" y2="422.90" stroke="#5a5a5a" stroke-width="1" /><text x="598.20" y="434.60" font-size="8" text-anchor="middle" font-weight="normal" fill="#0a0a0a" >7.4</text><line x1="622.40" y1="419.90" x2="622.40" y2="422.90" stroke="#5a5a5a" stroke-width="1" /><text x="622.40" y="434.60" font-size="8" text-anchor="middle" font-weight="normal" fill="#0a0a0a" >15</text><text x="396.50" y="259.50" font-size="14" text-anchor="start" font-weight="bold" fill="#111" >d</text><text x="450.30" y="449.50" font-size="8.8" fill="#0a0a0a">Extract concentration, mg<tspan font-size="5.9" dy="2.9" dx="0.3" fill="#333" style="stroke-width:0.1px">de</tspan><tspan dy="-2.9" dx="0.5"> mL</tspan><tspan font-size="5.9" dy="-3.7" dx="0.7">-1</tspan></text><circle cx="404.60" cy="301.40" r="2.9" fill="#fccf00" stroke="#2a2a2a" stroke-width="0.85"/><circle cx="477.20" cy="297.10" r="2.9" fill="#fccf00" stroke="#2a2a2a" stroke-width="0.85"/><circle cx="501.40" cy="275.50" r="2.9" fill="#fccf00" stroke="#2a2a2a" stroke-width="0.85"/><circle cx="525.60" cy="270.20" r="2.9" fill="#fccf00" stroke="#2a2a2a" stroke-width="0.85"/><circle cx="549.80" cy="272.40" r="2.9" fill="#fccf00" stroke="#2a2a2a" stroke-width="0.85"/><circle cx="574.00" cy="276.40" r="2.9" fill="#fccf00" stroke="#2a2a2a" stroke-width="0.85"/><circle cx="598.20" cy="277.20" r="2.9" fill="#fccf00" stroke="#2a2a2a" stroke-width="0.85"/><circle cx="622.40" cy="313.30" r="2.9" fill="#fccf00" stroke="#2a2a2a" stroke-width="0.85"/><text x="0" y="0" font-size="8.8" text-anchor="middle" fill="#0a0a0a" transform="translate(11.00,95.40) rotate(-90)">DNA<tspan font-size="6" dy="2.7" fill="#333" style="stroke-width:0.1px">CyHV-3</tspan><tspan dy="-2.7"> copy number, mL</tspan><tspan font-size="6" dy="-3.6">-1</tspan></text><text x="0" y="0" font-size="9.1" text-anchor="middle" fill="#0a0a0a" transform="translate(25.50,98.10) rotate(-90)">Virus titer, TCID<tspan font-size="6.6" dy="2.2">50</tspan><tspan dy="-2.2"> mL</tspan><tspan font-size="6" dy="-3.6">-1</tspan></text><text x="0" y="0" font-size="8.8" text-anchor="middle" fill="#0a0a0a" transform="translate(14.00,325.00) rotate(-90)">DNA<tspan font-size="6" dy="2.7" fill="#333" style="stroke-width:0.1px">CyHV-3</tspan><tspan dy="-2.7"> copy number, mL</tspan><tspan font-size="6" dy="-3.6">-1</tspan></text><text x="0" y="0" font-size="9.1" text-anchor="middle" fill="#0a0a0a" transform="translate(28.70,327.40) rotate(-90)">Virus titer, TCID<tspan font-size="6.6" dy="2.2">50</tspan><tspan dy="-2.2"> mL</tspan><tspan font-size="6" dy="-3.6">-1</tspan></text><text x="0" y="0" font-size="8.6" text-anchor="middle" fill="#0a0a0a" transform="translate(680.20,92.00) rotate(-90)">Cell viability, %</text><text x="0" y="0" font-size="8.6" text-anchor="middle" fill="#0a0a0a" transform="translate(680.20,333.00) rotate(-90)">Cell viability, %</text></svg>
</div></body></html>
